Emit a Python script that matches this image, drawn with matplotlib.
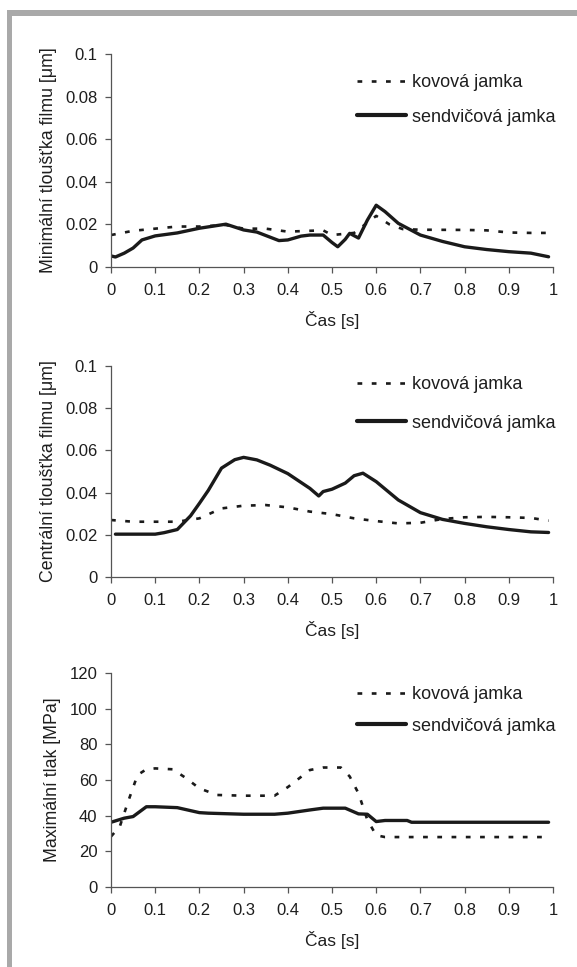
import matplotlib
matplotlib.use("Agg")
import matplotlib.pyplot as plt
from matplotlib.patches import Rectangle

plt.rcParams['font.family'] = ['Liberation Sans', 'DejaVu Sans']

# ---------------- data ----------------
series_names = ["kovová jamka", "sendvičová jamka"]
x_label = "Čas [s]"
y_labels = ["Minimální tloušťka filmu [μm]", "Centrální tloušťka filmu [μm]", "Maximální tlak [MPa]"]

x_ticks = [0, 0.1, 0.2, 0.3, 0.4, 0.5, 0.6, 0.7, 0.8, 0.9, 1.0]
x_ticklabels = ["0", "0.1", "0.2", "0.3", "0.4", "0.5", "0.6", "0.7", "0.8", "0.9", "1"]
y_ticks_film = [0, 0.02, 0.04, 0.06, 0.08, 0.1]
y_ticklabels_film = ["0", "0.02", "0.04", "0.06", "0.08", "0.1"]
y_ticks_p = [0, 20, 40, 60, 80, 100, 120]
y_ticklabels_p = ["0", "20", "40", "60", "80", "100", "120"]

# Panel 1: minimum film thickness
t_min_kov = [0, 0.05, 0.1, 0.15, 0.2, 0.26, 0.3, 0.35, 0.4, 0.45, 0.48, 0.5, 0.55, 0.6, 0.63, 0.66,
             0.7, 0.8, 0.85, 0.9, 0.95, 0.99]
h_min_kov = [0.015, 0.017, 0.018, 0.019, 0.019, 0.0197, 0.018, 0.018, 0.0166, 0.017, 0.0172, 0.015,
             0.016, 0.024, 0.020, 0.0178, 0.0175, 0.0174, 0.0172, 0.0162, 0.016, 0.016]
t_min_sen = [0, 0.01, 0.03, 0.05, 0.07, 0.1, 0.15, 0.2, 0.26, 0.3, 0.33, 0.36, 0.38, 0.4, 0.43,
             0.45, 0.48, 0.5, 0.513, 0.53, 0.54, 0.56, 0.58, 0.6, 0.62, 0.65, 0.7, 0.75, 0.8,
             0.85, 0.9, 0.95, 0.99]
h_min_sen = [0.0052, 0.0047, 0.0065, 0.0089, 0.0127, 0.0146, 0.016, 0.0182, 0.0201, 0.0174, 0.0164,
             0.014, 0.0124, 0.0127, 0.0145, 0.015, 0.015, 0.0115, 0.0095, 0.013, 0.0158, 0.0136,
             0.022, 0.029, 0.026, 0.0205, 0.015, 0.012, 0.0095, 0.0082, 0.0072, 0.0065, 0.0048]

# Panel 2: central film thickness
t_cen_kov = [0, 0.05, 0.1, 0.15, 0.2, 0.25, 0.3, 0.35, 0.4, 0.45, 0.5, 0.55, 0.6, 0.65, 0.7,
             0.75, 0.8, 0.85, 0.9, 0.95, 0.99]
h_cen_kov = [0.027, 0.0262, 0.0262, 0.0262, 0.0278, 0.0325, 0.0338, 0.0341, 0.033, 0.031, 0.0298,
             0.0278, 0.0265, 0.0254, 0.0257, 0.0275, 0.0283, 0.0285, 0.0283, 0.028, 0.0267]
t_cen_sen = [0.01, 0.1, 0.12, 0.15, 0.18, 0.2, 0.22, 0.25, 0.28, 0.3, 0.33, 0.36, 0.4, 0.45,
             0.47, 0.48, 0.5, 0.53, 0.55, 0.57, 0.6, 0.65, 0.7, 0.75, 0.8, 0.85, 0.9, 0.95, 0.99]
h_cen_sen = [0.0203, 0.0203, 0.021, 0.0225, 0.029, 0.0349, 0.041, 0.0516, 0.0556, 0.0567, 0.0555,
             0.053, 0.049, 0.042, 0.0384, 0.0405, 0.0416, 0.0445, 0.048, 0.0492, 0.0452, 0.0365,
             0.0305, 0.0273, 0.0254, 0.0238, 0.0225, 0.0214, 0.0211]

# Panel 3: maximum pressure
t_p_kov = [0, 0.02, 0.04, 0.06, 0.08, 0.1, 0.14, 0.17, 0.2, 0.24, 0.3, 0.37, 0.4, 0.45, 0.48,
           0.52, 0.54, 0.56, 0.58, 0.6, 0.62, 0.7, 0.8, 0.9, 0.99]
p_kov = [28.3, 34, 48.8, 62.8, 66, 66.5, 66, 61, 55.3, 51.6, 51.2, 51.2, 56, 65.6, 67, 67, 62,
         52.5, 37.6, 29, 28, 28, 28, 28, 28]
t_p_sen = [0, 0.03, 0.05, 0.08, 0.1, 0.15, 0.2, 0.22, 0.3, 0.37, 0.4, 0.45, 0.48, 0.53, 0.56,
           0.58, 0.6, 0.62, 0.67, 0.68, 0.8, 0.9, 0.99]
p_sen = [36.3, 38.6, 39.5, 45, 45, 44.5, 41.7, 41.4, 40.8, 40.8, 41.4, 43.2, 44.2, 44.2, 41,
         40.8, 36.7, 37.3, 37.3, 36.3, 36.3, 36.3, 36.3]

# ---------------- figure ----------------
W, H = 577, 967
fig = plt.figure(figsize=(W / 100, H / 100), dpi=100)
fig.patch.set_facecolor("white")

# gray frame (top and left)
gray = "#a9a9a9"
fig.patches.append(Rectangle((7 / W, 1 - 16 / H), (W - 7) / W, 6 / H, transform=fig.transFigure,
                             facecolor=gray, edgecolor="none"))
fig.patches.append(Rectangle((7 / W, 0), 5 / W, 1 - 10 / H, transform=fig.transFigure,
                             facecolor=gray, edgecolor="none"))

text_col = "#1e1e1e"
spine_col = "#555555"
left_px, right_px = 111, 553
panels = [
    dict(top=54, bot=267, t1=t_min_kov, y1=h_min_kov, t2=t_min_sen, y2=h_min_sen,
         ylim=(0, 0.1), yt=y_ticks_film, ytl=y_ticklabels_film, lab=y_labels[0],
         leg_y=20, spacing=0.98),
    dict(top=366, bot=577, t1=t_cen_kov, y1=h_cen_kov, t2=t_cen_sen, y2=h_cen_sen,
         ylim=(0, 0.1), yt=y_ticks_film, ytl=y_ticklabels_film, lab=y_labels[1],
         leg_y=10, spacing=1.2),
    dict(top=673, bot=887, t1=t_p_kov, y1=p_kov, t2=t_p_sen, y2=p_sen,
         ylim=(0, 120), yt=y_ticks_p, ytl=y_ticklabels_p, lab=y_labels[2],
         leg_y=13, spacing=0.82),
]

for pn in panels:
    ax = fig.add_axes([left_px / W, 1 - pn["bot"] / H, (right_px - left_px) / W,
                       (pn["bot"] - pn["top"]) / H])
    ax.plot(pn["t1"], pn["y1"], color="#1a1a1a", lw=1.9, linestyle=(0, (1.8, 3.6)),
            label=series_names[0], dash_capstyle="butt")
    ax.plot(pn["t2"], pn["y2"], color="#1a1a1a", lw=2.4, linestyle="-",
            label=series_names[1], solid_capstyle="round", solid_joinstyle="round")
    ax.set_xlim(0, 1)
    ax.set_ylim(*pn["ylim"])
    ax.set_xticks(x_ticks)
    ax.set_xticklabels(x_ticklabels)
    ax.set_yticks(pn["yt"])
    ax.set_yticklabels(pn["ytl"])
    for s in ["top", "right"]:
        ax.spines[s].set_visible(False)
    for s in ["left", "bottom"]:
        ax.spines[s].set_color(spine_col)
        ax.spines[s].set_linewidth(0.9)
    ax.tick_params(direction="out", length=4.2, width=0.9, color=spine_col,
                   labelsize=12, labelcolor=text_col)
    ax.tick_params(axis="x", pad=7)
    ax.tick_params(axis="y", pad=5.5)
    ax.set_xlabel(x_label, fontsize=12.5, color=text_col, labelpad=10)
    ylab = ax.set_ylabel(pn["lab"], fontsize=12.8, color=text_col, labelpad=6)
    ax.patch.set_alpha(0)
    leg = ax.legend(loc="upper left",
                    bbox_to_anchor=((357 - left_px) / (right_px - left_px),
                                    1 - pn["leg_y"] / (pn["bot"] - pn["top"])),
                    frameon=False, fontsize=13, handlelength=2.7, handletextpad=0.35,
                    labelspacing=pn["spacing"], borderpad=0, borderaxespad=0)
    for txt in leg.get_texts():
        txt.set_color(text_col)
    leg.get_lines()[1].set_linewidth(3.0)

fig.savefig("out.png", dpi=100)
